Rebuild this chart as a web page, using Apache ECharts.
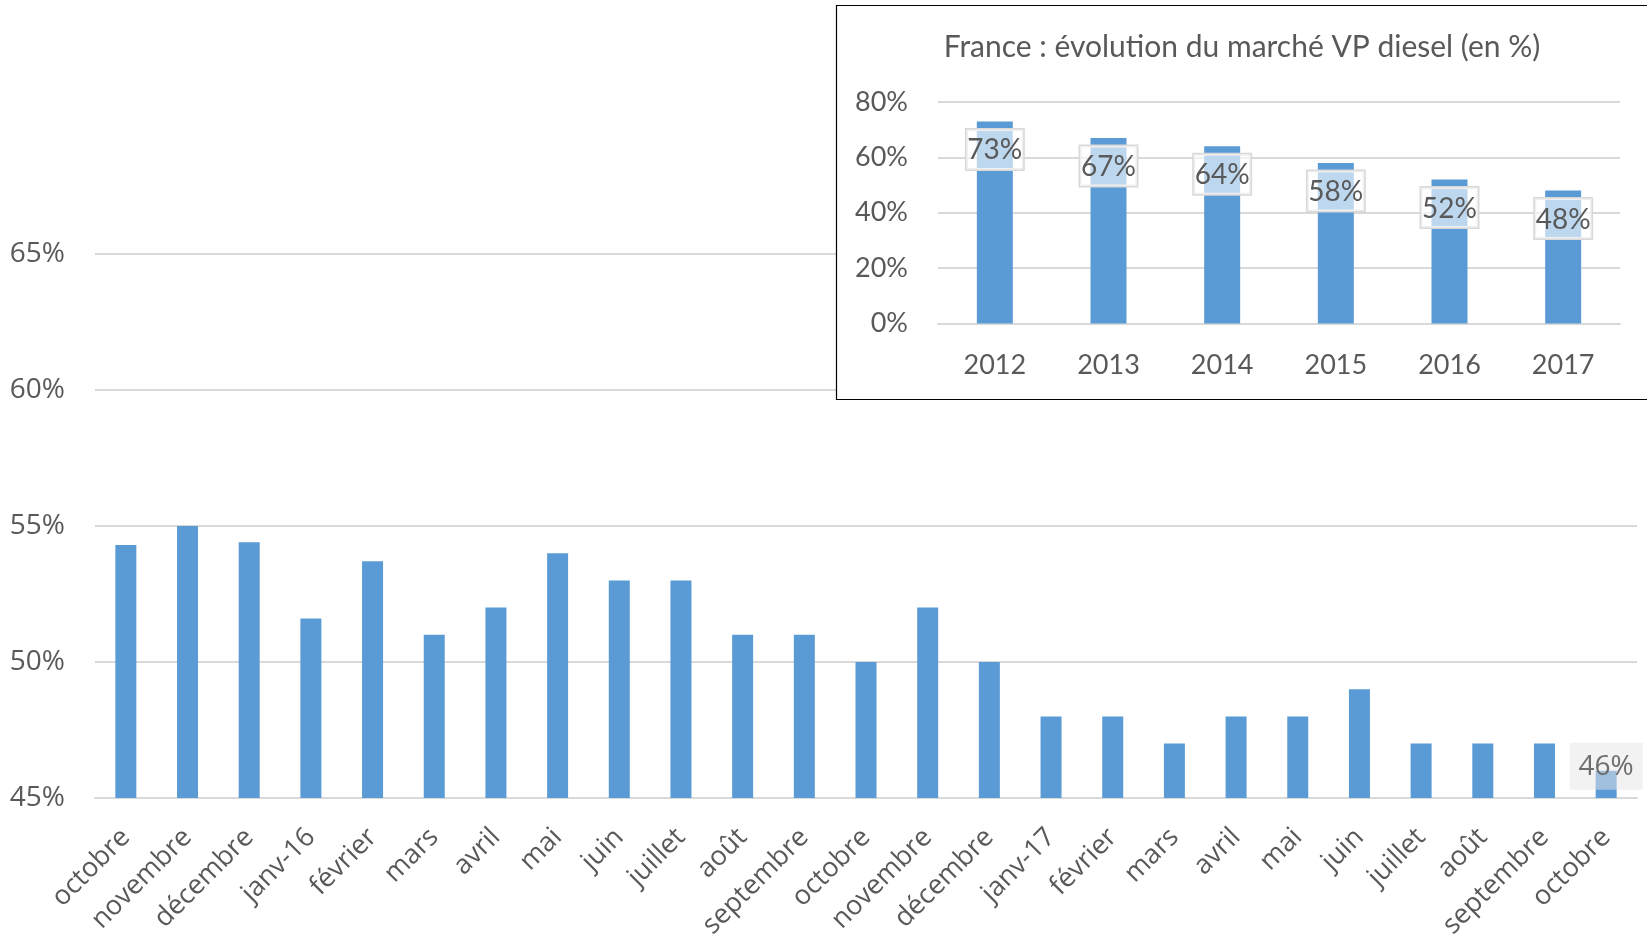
<!DOCTYPE html>
<html>
<head>
<meta charset="utf-8">
<script src="https://cdn.jsdelivr.net/npm/echarts@6/dist/echarts.min.js"></script>
<style>
html,body{margin:0;padding:0;background:#fff;}
#chart{width:1647px;height:939px;}
</style>
</head>
<body>
<div id="chart"></div>
<script>
const months = ['octobre','novembre','décembre','janv-16','février','mars','avril','mai','juin','juillet','août','septembre','octobre','novembre','décembre','janv-17','février','mars','avril','mai','juin','juillet','août','septembre','octobre'];
const monthValues = [54.3,55,54.4,51.6,53.7,51,52,54,53,53,51,51,50,52,50,48,48,47,48,48,49,47,47,47,46];
const mainTicks = { min: 45, max: 65, interval: 5 };

const years = ['2012','2013','2014','2015','2016','2017'];
const yearValues = [73,67,64,58,52,48];
const insetTicks = { min: 0, max: 80, interval: 20 };

const insetTitle = 'France : évolution du marché VP diesel (en %)';

const BLUE = '#5b9bd5';
const GRID = '#d9d9d9';
const TXT = '#595959';

const chart = echarts.init(document.getElementById('chart'), null, {renderer:'canvas'});

const mainData = monthValues.map((v, i) => {
  if (i === monthValues.length - 1) {
    return {
      value: v,
      label: {
        show: true, position: 'top', distance: -19,
        formatter: '{c}%', fontFamily: 'Open Sans', fontSize: 28, color: '#6d6d6d',
        backgroundColor: 'rgba(229,229,229,0.5)', padding: [10, 9, 9, 9]
      }
    };
  }
  return v;
});

chart.setOption({
  animation: false,
  backgroundColor: '#fff',
  grid: [
    { left: 95, right: 10, top: 254, bottom: 141, containLabel: false, outerBoundsMode: 'none' },
    { left: 938, right: 27, top: 102, bottom: 615.5, containLabel: false, outerBoundsMode: 'none' }
  ],
  graphic: [
    {
      type: 'rect', z: 1, zlevel: 0,
      shape: { x: 836.5, y: 5.5, width: 830, height: 394 },
      style: { fill: '#fff', stroke: '#000', lineWidth: 1.2 }
    },
    {
      type: 'text', z: 5,
      x: 1242, y: 47,
      style: {
        text: insetTitle, fill: TXT, font: '30px Lato',
        textAlign: 'center', textVerticalAlign: 'middle'
      }
    }
  ],
  xAxis: [
    {
      type: 'category', gridIndex: 0, data: months, z: 0,
      axisLine: { show: true, lineStyle: { color: GRID, width: 2 } },
      axisTick: { show: false },
      axisLabel: { rotate: 45, margin: 35, fontFamily: 'Open Sans', fontSize: 27, color: TXT, interval: 0 }
    },
    {
      type: 'category', gridIndex: 1, data: years, z: 2,
      axisLine: { show: true, lineStyle: { color: GRID, width: 2 } },
      axisTick: { show: false },
      axisLabel: { margin: 28, fontFamily: 'Lato', fontSize: 27, color: TXT }
    }
  ],
  yAxis: [
    {
      type: 'value', gridIndex: 0, min: mainTicks.min, max: mainTicks.max, interval: mainTicks.interval, z: 0,
      axisLine: { show: false }, axisTick: { show: false },
      splitLine: { lineStyle: { color: GRID, width: 2 } },
      axisLabel: { formatter: '{value}%', margin: 30, fontFamily: 'Open Sans', fontSize: 28, color: TXT }
    },
    {
      type: 'value', gridIndex: 1, min: insetTicks.min, max: insetTicks.max, interval: insetTicks.interval, z: 2,
      axisLine: { show: false }, axisTick: { show: false },
      splitLine: { lineStyle: { color: GRID, width: 2 } },
      axisLabel: { formatter: '{value}%', margin: 30, fontFamily: 'Lato', fontSize: 27, color: TXT }
    }
  ],
  series: [
    {
      type: 'bar', xAxisIndex: 0, yAxisIndex: 0, data: mainData,
      barWidth: 21, itemStyle: { color: BLUE }, z: 2
    },
    {
      type: 'bar', xAxisIndex: 1, yAxisIndex: 1, data: yearValues,
      barWidth: 36, itemStyle: { color: BLUE }, z: 3,
      label: {
        show: true, position: 'insideTop', distance: 8,
        formatter: '{c}%', fontFamily: 'Lato', fontSize: 28, color: TXT,
        backgroundColor: 'rgba(255,255,255,0.6)', borderColor: GRID, borderWidth: 1.5,
        padding: [7, 1, 5, 1]
      }
    }
  ]
});
</script>
</body>
</html>
